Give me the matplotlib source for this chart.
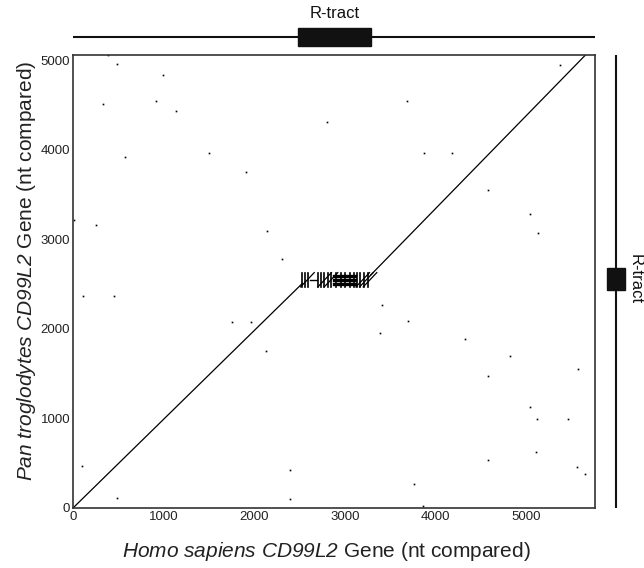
import matplotlib
matplotlib.use('Agg')
import matplotlib.pyplot as plt
from matplotlib.patches import Rectangle

plt.rcParams['font.family'] = ['Liberation Sans', 'DejaVu Sans']
# only the axis labels use mathtext, for their italic gene names
plt.rcParams['mathtext.fontset'] = 'custom'
plt.rcParams['mathtext.rm'] = 'Liberation Sans:italic'
plt.rcParams['mathtext.it'] = 'Liberation Sans:italic'

# axis extent (nt)
human_len = 5756
chimp_len = 5061

# main diagonal pieces (human nt, chimp nt)
diag_x = [[0, 2530], [3280, 5651]]
diag_y = [[0, 2510], [2600, 5061]]

# repeat cluster inside the R-tract
rep_tick_x = [2520, 2555, 2590, 2700, 2735, 2770, 2810, 2850, 2905, 2950,
              3000, 3050, 3095, 3130, 3170, 3210, 3255]
rep_tick_y = (2470, 2630)
rep_diag_x0 = [2510, 2700, 2770, 3120, 3160, 3200]
rep_bar_y = [2500, 2548, 2596]
rep_bar_x = (2880, 3110)
rep_dash_x = (2610, 2690)

# scattered off-diagonal hits
dots_x = [386, 486, 993, 331, 916, 1137, 574, 1501, 1909, 2803, 3687, 3874,
          4183, 4580, 5044, 5132, 5375, 11, 254, 2141, 110, 453, 1755, 1965,
          2130, 3388, 3698, 4327, 4823, 4580, 5044, 5121, 5453, 5574, 99, 486,
          2395, 2395, 3764, 3863, 4580, 5110, 5563, 5651, 3407, 2303]
dots_y = [5061, 4961, 4838, 4514, 4547, 4436, 3922, 3966, 3754, 4313, 4547,
          3966, 3966, 3553, 3285, 3073, 4950, 3218, 3162, 3095, 2369, 2369,
          2078, 2078, 1754, 1955, 2090, 1888, 1698, 1475, 1128, 994, 994, 1553,
          469, 112, 425, 100, 268, 22, 536, 626, 458, 380, 2268, 2779]

# R-tract spans
tract_human = (2483, 3289)
tract_chimp = (2440, 2680)

W, H = 644, 568
fig = plt.figure(figsize=(W / 100, H / 100), dpi=100)
ax = fig.add_axes([73 / W, (H - 508) / H, 522 / W, 453 / H])

for xs, ys in zip(diag_x, diag_y):
    ax.plot(xs, ys, color='black', lw=0.9)

for x in rep_tick_x:
    ax.plot([x, x], rep_tick_y, color='black', lw=1.2)
for x0 in rep_diag_x0:
    ax.plot([x0, x0 + 150], [rep_tick_y[0], rep_tick_y[1]], color='black', lw=0.9)
for y in rep_bar_y:
    ax.plot(rep_bar_x, [y, y], color='black', lw=2.4)
ax.plot(rep_dash_x, [2550, 2550], color='black', lw=1.0)

ax.plot(dots_x, dots_y, ls='none', marker='s', ms=1.2, color='black', mec='none')

ax.set_xlim(0, human_len)
ax.set_ylim(0, chimp_len)
ax.set_xticks([0, 1000, 2000, 3000, 4000, 5000])
ax.set_yticks([0, 1000, 2000, 3000, 4000, 5000])
ax.tick_params(length=0, pad=2, labelsize=9.5, colors='#222222')
for s in ax.spines.values():
    s.set_color('#333333')
    s.set_linewidth(1.2)

ax.set_xlabel('$Homo\\ sapiens\\ CD99L2$ Gene (nt compared)', fontsize=15,
              color='#222222')
ax.set_ylabel('$Pan\\ troglodytes\\ CD99L2$ Gene (nt compared)', fontsize=15,
              color='#222222')
ax.xaxis.set_label_coords(0.485, -0.07)
ax.yaxis.set_label_coords(-0.067, 0.524)

# top gene map
axt = fig.add_axes([73 / W, (H - 55) / H, 522 / W, 55 / H], sharex=ax)
axt.set_ylim(55, 0)
axt.axis('off')
axt.plot([0, human_len], [37, 37], color='#111111', lw=1.5)
axt.add_patch(Rectangle((tract_human[0], 28), tract_human[1] - tract_human[0], 18,
                        color='#111111'))
axt.text(sum(tract_human) / 2, 13, 'R-tract', ha='center', va='center', fontsize=12,
         color='#111111')

# right gene map
axr = fig.add_axes([598 / W, (H - 508) / H, 46 / W, 453 / H], sharey=ax)
axr.set_xlim(0, 46)
axr.axis('off')
axr.plot([18, 18], [0, chimp_len], color='#111111', lw=1.5)
axr.add_patch(Rectangle((9, tract_chimp[0]), 18, tract_chimp[1] - tract_chimp[0],
                        color='#111111'))
axr.text(37, sum(tract_chimp) / 2, 'R-tract', ha='center', va='center', fontsize=12,
         rotation=-90, color='#111111')

fig.savefig('out.png', dpi=100)
